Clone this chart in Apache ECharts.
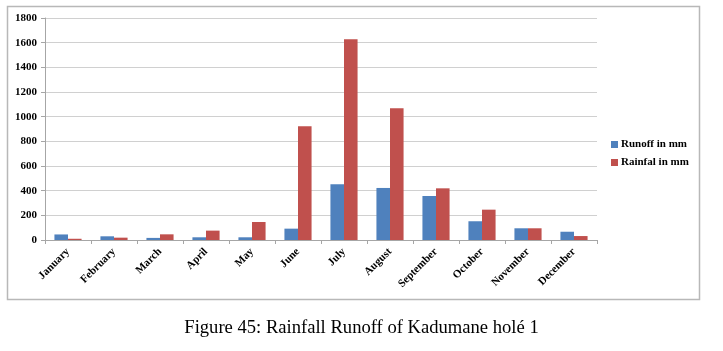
<!DOCTYPE html>
<html>
<head>
    <meta charset="UTF-8">
    <title>Rainfall Runoff of Kadumane holé 1</title>
    <script src="https://cdn.jsdelivr.net/npm/echarts@6/dist/echarts.min.js"></script>
    <style>
        html, body { margin: 0; padding: 0; background: #fff; }
        #chartContainer { width: 723px; height: 351px; }
    </style>
</head>
<body>
<div id="chartContainer"></div>
<script>
    // 月份
    var months = ['January', 'February', 'March', 'April', 'May', 'June',
        'July', 'August', 'September', 'October', 'November', 'December'];
    // 径流 (mm)
    var runoff = [45, 30, 17, 22, 22, 92, 452, 422, 357, 152, 95, 67];
    // 降雨 (mm)
    var rainfall = [10, 19, 46, 76, 146, 922, 1628, 1068, 419, 246, 95, 32];

    var serif = '"Liberation Serif", "DejaVu Serif", serif';

    var myChart = echarts.init(document.getElementById('chartContainer'));
    var option = {
        animation: false,
        grid: { left: 45, right: 126, top: 18, bottom: 111 },
        graphic: [
            {
                type: 'rect',
                shape: { x: 7.5, y: 6.5, width: 692, height: 293 },
                style: { fill: 'none', stroke: '#b8b8b8', lineWidth: 1.5 }
            },
            {
                type: 'text',
                left: 'center',
                top: 319,
                style: {
                    text: 'Figure 45: Rainfall Runoff of Kadumane holé 1',
                    font: '18.6px ' + serif,
                    fill: '#000'
                }
            }
        ],
        legend: {
            orient: 'vertical',
            left: 606,
            top: 134,
            itemWidth: 7,
            itemHeight: 7,
            itemGap: 7,
            icon: 'rect',
            textStyle: { fontFamily: serif, fontWeight: 'bold', fontSize: 11, color: '#000', padding: [0, 0, 0, -2] }
        },
        xAxis: {
            type: 'category',
            data: months,
            axisLine: { lineStyle: { color: '#a6a6a6' } },
            axisTick: { show: true, length: 4, lineStyle: { color: '#a6a6a6' } },
            axisLabel: {
                rotate: 45,
                interval: 0,
                margin: 10,
                fontFamily: serif,
                fontWeight: 'bold',
                fontSize: 11,
                color: '#000'
            }
        },
        yAxis: {
            type: 'value',
            min: 0,
            max: 1800,
            interval: 200,
            axisLine: { show: true, lineStyle: { color: '#a6a6a6' } },
            axisTick: { show: true, length: 4, lineStyle: { color: '#a6a6a6' } },
            splitLine: { lineStyle: { color: '#d0d0d0' } },
            axisLabel: {
                margin: 8,
                formatter: function (v) { return String(v); },
                fontFamily: serif,
                fontWeight: 'bold',
                fontSize: 11,
                color: '#000'
            }
        },
        series: [
            {
                name: 'Runoff in mm',
                type: 'bar',
                data: runoff,
                barGap: '0%',
                barCategoryGap: '41%',
                itemStyle: { color: '#4F81BD' }
            },
            {
                name: 'Rainfal in mm',
                type: 'bar',
                data: rainfall,
                itemStyle: { color: '#C0504D' }
            }
        ]
    };
    myChart.setOption(option);
</script>
</body>
</html>
